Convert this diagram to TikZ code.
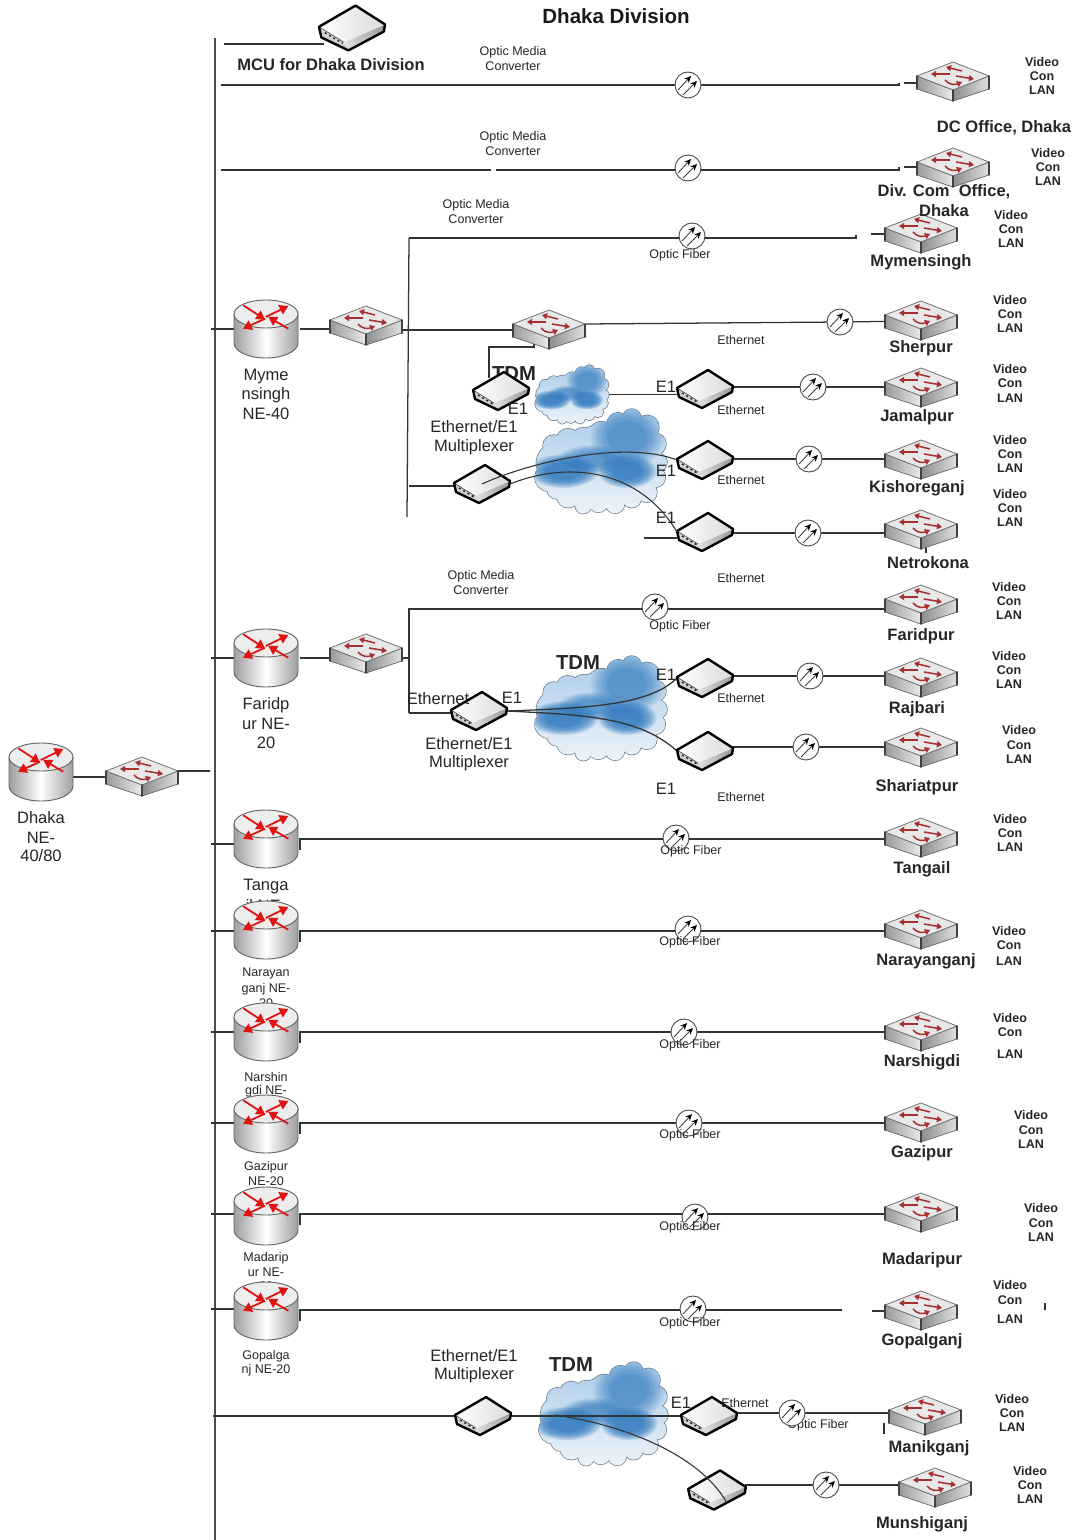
\documentclass[tikz,border=0pt]{standalone}
\usepackage{fontspec}
\setmainfont{Liberation Sans}
\usetikzlibrary{arrows.meta,fadings,calc}
\pgfdeclarelayer{cloudlayer}
\pgfdeclarelayer{wirelayer}
\pgfsetlayers{cloudlayer,wirelayer,main}
\definecolor{redarrow}{HTML}{E01212}
\definecolor{swarrow}{HTML}{A5302F}
\definecolor{wirecol}{HTML}{333333}
\definecolor{cloudtop}{HTML}{A9CBE8}
\definecolor{cloudbot}{HTML}{EEF4FA}
\definecolor{cloudblue}{HTML}{2F79BE}
\definecolor{cloudedge}{HTML}{66788A}
\newcounter{tn}
\tikzset{
  wire/.style={draw=wirecol,line width=0.95pt},
  devbox/.style={inner sep=0pt,outer sep=0pt,rectangle},
  routerbox/.style={devbox,minimum width=48pt,minimum height=43.5pt},
  switchbox/.style={devbox,minimum width=54pt,minimum height=29pt},
  muxbox/.style={devbox,minimum width=42pt,minimum height=28.5pt},
  opticbox/.style={circle,draw=black!70,fill=white,line width=0.7pt,minimum size=19.5pt,inner sep=0pt,outer sep=0pt},
  cloudbox/.style={devbox},
  smalltxt/.style={inner sep=0pt,align=center,yshift=-0.6pt,font=\fontsize{9.4}{10.9}\selectfont,text=black!85},
  smallbold/.style={inner sep=0pt,align=center,yshift=-0.2pt,font=\fontsize{9.4}{10.9}\selectfont\bfseries,text=black!85},
  bigtxt/.style={inner sep=0pt,align=center,yshift=-0.8pt,font=\fontsize{12.4}{14.3}\selectfont,text=black!85},
  bigbold/.style={inner sep=0pt,align=center,yshift=-0.7pt,font=\fontsize{12.4}{14.3}\selectfont\bfseries,text=black!85},
  tdmtxt/.style={inner sep=0pt,align=center,yshift=-0.5pt,font=\fontsize{15.2}{17}\selectfont\bfseries,text=black!85},
  titletxt/.style={inner sep=0pt,align=center,font=\fontsize{15.4}{18}\selectfont\bfseries,text=black!90},
  rarr/.style={draw=redarrow,line width=1.35pt,-{Triangle[length=6.5pt,width=7.5pt]}},
  sarr/.style={draw=swarrow,line width=1.15pt,-{Triangle[length=3.8pt,width=4.6pt]}},
  oarr/.style={draw=black!75,line width=0.65pt,-{Stealth[length=5pt,width=4.5pt,color=black]}},
}
\newcommand{\stxt}[2]{\stepcounter{tn}\node[smalltxt] (t\arabic{tn}) at (#1) {#2};}
\newcommand{\sbold}[2]{\stepcounter{tn}\node[smallbold] (t\arabic{tn}) at (#1) {#2};}
\newcommand{\btxt}[2]{\stepcounter{tn}\node[bigtxt] (t\arabic{tn}) at (#1) {#2};}
\newcommand{\bbold}[2]{\stepcounter{tn}\node[bigbold] (t\arabic{tn}) at (#1) {#2};}
\newcommand{\tdm}[1]{\stepcounter{tn}\node[tdmtxt] (t\arabic{tn}) at (#1) {TDM};}
\newcommand{\vcl}[4]{\sbold{#1,#2}{Video}\sbold{#1,#3}{Con}\sbold{#1,#4}{LAN}}
\newcommand{\routerdev}[2]{%
  \node[routerbox] (#1) at (#2) {};
  \begin{scope}[shift={(#2)}]
    \path[draw=black!60,line width=0.7pt,left color=black!38,right color=black!38,middle color=white]
      (-32,-15) -- (-32,14) arc[x radius=32,y radius=15,start angle=180,end angle=0] -- (32,-15) -- cycle;
    \path[draw=black!60,line width=0.7pt,fill=black!7] (0,-15) ellipse[x radius=32,y radius=14];
    \draw[rarr] (-22.7,-23.7) -- (-1,-9.5);
    \draw[rarr] (22.3,-0.3) -- (2.3,-12);
    \draw[rarr] (-0.3,-12) -- (22.3,-23);
    \draw[rarr] (-1,-10.3) -- (-23,-0.3);
  \end{scope}}
\newcommand{\switchdev}[2]{%
  \node[switchbox] (#1) at (#2) {};
  \begin{scope}[shift={(#2)}]
    \path[left color=black!40,right color=black!8,draw=black!60,line width=0.5pt] (-36,-6) -- (0,8) -- (0,19) -- (-36,7) -- cycle;
    \path[left color=black!45,right color=black!12,draw=black!60,line width=0.5pt] (0,8) -- (36,-6) -- (36,7) -- (0,19) -- cycle;
    \path[fill=black!9,draw=black!55,line width=0.6pt,line join=round] (0,-20) -- (36,-6) -- (0,8) -- (-36,-6) -- cycle;
    \draw[black!75,line width=1.1pt,line cap=round] (-36,-6) -- (-36,7) (36,-6) -- (36,7) (0,8) -- (0,19);
    \draw[sarr] (9,-11) -- (-7,-15);
    \draw[sarr] (-3,-8) -- (-22,-8);
    \draw[sarr] (3,-6) -- (21,-3);
    \draw[sarr] (-8,-2) .. controls (-4,3) and (2,3) .. (9,0);
  \end{scope}}
\newcommand{\muxdev}[3][1]{%
  \node[muxbox] (#2) at (#3) {};
  \begin{scope}[shift={(#3)},scale=#1]
    \path[fill=black!18] (-28,-1) -- (-7,12) -- (-3,19) -- (-26,8) -- cycle;
    \path[left color=black!12,right color=black!40] (-7,12) -- (28,-3) -- (27,3) -- (-3,19) -- cycle;
    \path[left color=white,right color=black!14] (-28,-1) -- (3,-19) -- (28,-3) -- (-7,12) -- cycle;
    \draw[black!80,line width=0.4pt] (-28,-1) -- (-7,12);
    \draw[black!85,line width=1.1pt,dash pattern=on 1.5pt off 2.2pt] (-23,4) -- (-8,13);
    \draw[black,line width=1.8pt,line join=round] (-28,-1) -- (3,-19) -- (28,-3) -- (27,3) -- (-3,19) -- (-26,8) -- cycle;
  \end{scope}}
\newcommand{\opticdev}[2]{%
  \node[opticbox] (#1) at (#2) {};
  \begin{scope}[shift={(#2)}]
    \draw[oarr] (-10,5) -- (3,-9);
    \draw[oarr] (-5,10) -- (9,-4);
  \end{scope}}
\newcommand{\cloudlobes}{
  (70,162) circle[radius=60] (48,205) circle[radius=42] (62,110) circle[radius=32] (105,95) circle[radius=36] (150,92) circle[radius=36]
  (205,80) circle[radius=42] (255,45) circle[radius=34] (295,28) circle[radius=28] (340,55) circle[radius=36] (365,105) circle[radius=32] (372,160) circle[radius=28]
  (365,205) circle[radius=30] (340,250) circle[radius=30] (295,268) circle[radius=28] (245,285) circle[radius=28] (195,280) circle[radius=30] (150,290) circle[radius=24]
  (105,262) circle[radius=34] (72,240) circle[radius=30] (200,170) circle[radius=120] (280,160) circle[radius=90] (295,85) circle[radius=55]}
% \softblob{x}{y}{rx}{ry}{opacity}: a soft-edged blob built of nested fuzzy ellipses
\newcommand{\softblob}[5]{%
  \foreach \blobf in {1.25,1,0.75}{
    \fill[cloudblue,path fading=circle with fuzzy edge 20 percent,opacity=#5]
      (#1,#2) ellipse[x radius=\blobf*#3,y radius=\blobf*#4];
  }}
% \clouddev{name}{left}{top}{width}{height}
\newcommand{\clouddev}[5]{%
  \node[cloudbox,minimum width=#4*0.75pt,minimum height=#5*0.75pt,anchor=north west] (#1) at (#2,#3) {};
  \begin{pgfonlayer}{cloudlayer}
  \begin{scope}[shift={(#2,#3)},xscale=#4/400,yscale=#5/315]
    \draw[cloudedge,line width=1pt] \cloudlobes;
    \begin{scope}
      \clip \cloudlobes;
      \shade[top color=cloudtop,bottom color=cloudbot] (-5,-5) rectangle (405,320);
      \softblob{280}{85}{90}{75}{0.32}
      \softblob{175}{150}{85}{35}{0.32}
      \softblob{90}{185}{85}{42}{0.48}
      \softblob{280}{185}{72}{42}{0.48}
    \end{scope}
  \end{scope}
  \end{pgfonlayer}}
% \routerrow{id}{routerY}{stubY}{lineY}{optX}{optY}{switchY}
\newcommand{\routerrow}[7]{%
  \routerdev{r#1}{266,#2}
  \opticdev{o#1}{#5,#6}
  \switchdev{s#1}{921,#7}
  \coordinate (l#1) at (211,#3);
  \coordinate (a#1) at (300,#4+11);
  \coordinate (b#1) at (300,#4);
  \begin{pgfonlayer}{wirelayer}
    \draw[wire] (l#1) -- (l#1 -| r#1.west);
    \draw[wire] (a#1) -- (b#1) -- (b#1 -| s#1.west);
  \end{pgfonlayer}}
\begin{document}
\begin{tikzpicture}[x=0.75pt,y=-0.75pt]
\useasboundingbox (0,0) rectangle (1076,1540);
\begin{pgfonlayer}{cloudlayer}
  \fill[white] (0,0) rectangle (1076,1540);
\end{pgfonlayer}

% ---------- clouds
\clouddev{c1}{534}{365}{75}{59}
\clouddev{c2}{533}{409}{134}{105}
\clouddev{c3}{533}{656}{134}{105}
\clouddev{c4}{537}{1362}{131}{104}

% ---------- labels that lie behind devices
\begin{pgfonlayer}{wirelayer}
  \tdm{514,373}
  \btxt{266,885}{Tanga}
  \btxt{266,904}{il NE-}
  \stxt{266,973}{Narayan}\stxt{266,988}{ganj NE-}\stxt{266,1002}{20}
  \stxt{266,1076}{Narshin}\stxt{266,1090}{gdi NE-}
  \stxt{266,1166}{Gazipur}\stxt{266,1180}{NE-20}
  \stxt{266,1257}{Madarip}\stxt{266,1271}{ur NE-}\stxt{266,1285}{20}
  \stxt{818,1424}{Optic Fiber}
\end{pgfonlayer}

% ---------- bus
\coordinate (bustop) at (215,38);
\coordinate (busbot) at (215,1540);
\begin{pgfonlayer}{wirelayer}
  \draw[draw=black!70,line width=1.5pt] (bustop) -- (busbot);
\end{pgfonlayer}

% ---------- core
\routerdev{rD}{41,772}
\switchdev{sD}{142,777}
\coordinate (rDout) at (73,777);
\coordinate (sDout) at (210,771);
\begin{pgfonlayer}{wirelayer}
  \draw[wire] (rDout) -- (rDout -| sD.west);
  \draw[wire] (sDout) -- (sDout -| sD.east);
\end{pgfonlayer}

% ---------- MCU
\muxdev[1.18]{mcu}{352,28}
\coordinate (mcuL) at (224,44);
\begin{pgfonlayer}{wirelayer}
  \draw[wire] (mcuL) -- (mcuL -| mcu.west);
\end{pgfonlayer}

% ---------- DC office and Div Com rows
\opticdev{o1}{688,85}
\switchdev{s1}{953,82}
\coordinate (w1a) at (221,85); \coordinate (w1b) at (899,85); \coordinate (w1c) at (899,83); \coordinate (w1d) at (904,83);
\opticdev{o2}{688,168}
\switchdev{s2}{953,168}
\coordinate (w2a) at (221,170); \coordinate (w2b) at (491,170); \coordinate (w2c) at (496,170);
\coordinate (w2d) at (899,170); \coordinate (w2e) at (899,167); \coordinate (w2f) at (904,167);
\begin{pgfonlayer}{wirelayer}
  \draw[wire] (w1a) -- (o1) -- (w1b) -- (w1c);
  \draw[wire] (w1d) -- (w1d -| s1.west);
  \draw[wire] (w2a) -- (w2b);
  \draw[wire] (w2c) -- (w2d) -- (w2e);
  \draw[wire] (w2f) -- (w2f -| s2.west);
\end{pgfonlayer}

% ---------- Mymensingh block
\routerdev{rM}{266,329}
\switchdev{sM}{366,326}
\switchdev{sA}{549,330}
\muxdev{mA}{501,391}
\muxdev{mB}{705,389}
\muxdev{mC}{705,460}
\muxdev{mD}{705,532}
\muxdev{mE}{482,484}
\opticdev{oM}{692,236}
\switchdev{sMy}{921,234}
\opticdev{oS}{840,322}
\switchdev{sS}{921,321}
\opticdev{oJ}{813,387}
\switchdev{sJ}{921,388}
\opticdev{oK}{809,459}
\switchdev{sK}{921,460}
\opticdev{oN}{808,533}
\switchdev{sN}{921,530}
\coordinate (lM) at (211,329);
\coordinate (vMt) at (409,238);
\coordinate (vMb) at (407,517);
\coordinate (mMend) at (856,238);
\coordinate (mMe2) at (856,235);
\coordinate (mMs) at (871,234);
\coordinate (joinR) at (300,329);
\coordinate (joinS) at (402,330);
\coordinate (sAout) at (586,324);
\coordinate (joinE) at (409,486);
\coordinate (sAd1) at (534,340);
\coordinate (sAd2) at (534,347);
\coordinate (sAd3) at (489,347);
\coordinate (sAd4) at (489,378);
\coordinate (mDl) at (644,538);
\coordinate (tickN1) at (926,547);
\coordinate (tickN2) at (926,553);
\begin{pgfonlayer}{wirelayer}
  \draw[wire] (lM) -- (lM -| rM.west);
  \draw[wire] (joinR) -- (joinR -| sM.west);
  \draw[wire] (vMt) -- (vMb);
  \draw[wire] (joinS) -- (joinS -| sA.west);
  \draw[wire] (vMt) -- (mMend) -- (mMe2);
  \draw[wire] (mMs) -- (mMs -| sMy.west);
  \draw[wire] (sAout) -- (oS) -- (sS);
  \draw[wire] (sAd1) -- (sAd2) -- (sAd3) -- (sAd4);
  \draw[wire] (c1.east) -- (mB.west |- c1.east);
  \draw[wire] (oJ -| mB.east) -- (oJ) -- (oJ -| sJ.west);
  \draw[wire] (oK -| mC.east) -- (oK) -- (oK -| sK.west);
  \draw[wire] (oN -| mD.east) -- (oN) -- (oN -| sN.west);
  \draw[wire] (joinE) -- (joinE -| mE.west);
  \draw[wire] (mDl) -- (mDl -| mD.west);
  \draw[wire] (tickN1) -- (tickN2);
\end{pgfonlayer}
\draw[wire,line width=0.8pt] (mE.center) .. controls (530,462) and (625,440) .. (mC.west);
\draw[wire,line width=0.8pt] (mE.east) .. controls (570,460) and (640,470) .. (mD.west);

% ---------- Faridpur block
\routerdev{rF}{266,658}
\switchdev{sF}{366,654}
\muxdev{mF}{479,711}
\muxdev{mG}{705,678}
\muxdev{mH}{705,751}
\opticdev{oF}{655,607}
\switchdev{sFa}{921,605}
\opticdev{oR}{810,676}
\switchdev{sR}{921,678}
\opticdev{oSh}{806,747}
\switchdev{sSh}{921,748}
\coordinate (lF) at (211,658);
\coordinate (jF) at (300,658);
\coordinate (jFs) at (409,658);
\coordinate (vFt) at (409,609);
\coordinate (vFb) at (409,713);
\begin{pgfonlayer}{wirelayer}
  \draw[wire] (lF) -- (lF -| rF.west);
  \draw[wire] (jF) -- (jF -| sF.west);
  \draw[wire] (jFs -| sF.east) -- (jFs);
  \draw[wire] (vFb) -- (vFt) -- (vFt -| sFa.west);
  \draw[wire] (vFb) -- (vFb -| mF.west);
  \draw[wire] (mF.east) .. controls (590,708) and (650,705) .. (mG.west);
  \draw[wire] (mF.east) .. controls (590,715) and (640,718) .. (mH.west);
  \draw[wire] (oR -| mG.east) -- (oR) -- (oR -| sR.west);
  \draw[wire] (oSh -| mH.east) -- (oSh) -- (oSh -| sSh.west);
\end{pgfonlayer}

% ---------- simple routed rows
\routerrow{T}{839}{844}{839}{676}{838}{838}
\routerrow{Na}{930}{931}{931}{688}{929}{930}
\routerrow{Ns}{1032}{1032}{1032}{684}{1032}{1032}
\routerrow{Gz}{1124}{1123}{1123}{689}{1123}{1123}
\routerrow{Md}{1216}{1214}{1214}{695}{1217}{1213}

% ---------- Gopalganj
\routerdev{rG}{266,1311}
\opticdev{oG}{693,1309}
\switchdev{sG}{921,1311}
\coordinate (lG) at (211,1309);
\coordinate (aG) at (300,1321);
\coordinate (bG) at (300,1310);
\coordinate (eG) at (842,1310);
\coordinate (sGs) at (872,1311);
\coordinate (tickG1) at (1045,1303);
\coordinate (tickG2) at (1045,1310);
\begin{pgfonlayer}{wirelayer}
  \draw[wire] (lG) -- (lG -| rG.west);
  \draw[wire] (aG) -- (bG) -- (eG);
  \draw[wire] (sGs) -- (sGs -| sG.west);
  \draw[wire] (tickG1) -- (tickG2);
\end{pgfonlayer}

% ---------- Manikganj / Munshiganj
\muxdev{mI}{483,1416}
\muxdev{mJ}{709,1416}
\muxdev[1.03]{mK}{717,1490}
\opticdev{oMa}{792,1413}
\switchdev{sMa}{925,1416}
\opticdev{oMu}{826,1485}
\switchdev{sMu}{935,1488}
\coordinate (lB) at (213,1416);
\coordinate (tickM1) at (884,1423);
\coordinate (tickM2) at (884,1434);
\begin{pgfonlayer}{wirelayer}
  \draw[wire] (lB) -- (mI) -- (mJ);
  \draw[wire] (oMa -| mJ.east) -- (oMa) -- (oMa -| sMa.west);
  \draw[wire] (oMu -| mK.east) -- (oMu) -- (oMu -| sMu.west);
  \draw[wire] (tickM1) -- (tickM2);
\end{pgfonlayer}
\coordinate (cJ) at (555,1415);
\coordinate (kEnd) at (727,1503);
\draw[wire,line width=0.8pt] (cJ) .. controls (625,1425) and (700,1455) .. (kEnd);

% ---------- labels
\node[titletxt] (title) at (616,16) {Dhaka Division};
\bbold{331,64}{MCU for Dhaka Division}
\bbold{1004,127}{DC Office, Dhaka}
\bbold{944,191}{Div. Com\ \ Office,}
\bbold{944,210}{Dhaka}
\bbold{921,261}{Mymensingh}
\bbold{921,347}{Sherpur}
\bbold{917,416}{Jamalpur}
\bbold{917,487}{Kishoreganj}
\bbold{928,562}{Netrokona}
\bbold{921,635}{Faridpur}
\bbold{917,708}{Rajbari}
\bbold{917,786}{Shariatpur}
\bbold{922,868}{Tangail}
\bbold{926,960}{Narayanganj}
\bbold{922,1061}{Narshigdi}
\bbold{922,1152}{Gazipur}
\bbold{922,1259}{Madaripur}
\bbold{922,1340}{Gopalganj}
\bbold{929,1447}{Manikganj}
\bbold{922,1523}{Munshiganj}

\vcl{1042}{62}{76}{90}
\vcl{1048}{153}{167}{181}
\vcl{1011}{215}{229}{243}
\vcl{1010}{300}{314}{328}
\vcl{1010}{369}{383}{398}
\vcl{1010}{440}{454}{468}
\vcl{1010}{494}{508}{522}
\vcl{1009}{587}{601}{615}
\vcl{1009}{656}{670}{684}
\vcl{1019}{730}{745}{759}
\vcl{1010}{819}{833}{847}
\vcl{1009}{931}{945}{961}
\vcl{1010}{1018}{1032}{1054}
\vcl{1031}{1115}{1130}{1144}
\vcl{1041}{1208}{1223}{1237}
\vcl{1010}{1285}{1300}{1319}
\vcl{1012}{1399}{1413}{1427}
\vcl{1030}{1471}{1485}{1499}

\stxt{513,51}{Optic Media}\stxt{513,65}{Converter}
\stxt{513,136}{Optic Media}\stxt{513,150}{Converter}
\stxt{476,204}{Optic Media}\stxt{476,218}{Converter}
\stxt{481,575}{Optic Media}\stxt{481,589}{Converter}

\stxt{680,254}{Optic Fiber}
\stxt{680,625}{Optic Fiber}
\stxt{691,850}{Optic Fiber}
\stxt{690,941}{Optic Fiber}
\stxt{690,1044}{Optic Fiber}
\stxt{690,1134}{Optic Fiber}
\stxt{690,1226}{Optic Fiber}
\stxt{690,1322}{Optic Fiber}

\stxt{741,339}{Ethernet}
\stxt{741,409}{Ethernet}
\stxt{741,479}{Ethernet}
\stxt{741,577}{Ethernet}
\stxt{741,697}{Ethernet}
\stxt{741,796}{Ethernet}
\stxt{745,1402}{Ethernet}

\stxt{266,1355}{Gopalga}\stxt{266,1369}{nj NE-20}

\btxt{266,375}{Myme}\btxt{266,394}{nsingh}\btxt{266,413}{NE-40}
\btxt{266,704}{Faridp}\btxt{266,723}{ur NE-}\btxt{266,742}{20}
\btxt{41,817}{Dhaka}\btxt{41,837}{NE-}\btxt{41,855}{40/80}

\btxt{474,426}{Ethernet/E1}\btxt{474,446}{Multiplexer}
\btxt{469,743}{Ethernet/E1}\btxt{469,762}{Multiplexer}
\btxt{474,1355}{Ethernet/E1}\btxt{474,1374}{Multiplexer}
\btxt{438,698}{Ethernet}

\btxt{518,408}{E1}
\btxt{666,386}{E1}
\btxt{666,470}{E1}
\btxt{666,517}{E1}
\btxt{512,697}{E1}
\btxt{666,674}{E1}
\btxt{666,788}{E1}
\btxt{681,1402}{E1}

\tdm{578,662}
\tdm{571,1364}
\end{tikzpicture}
\end{document}
